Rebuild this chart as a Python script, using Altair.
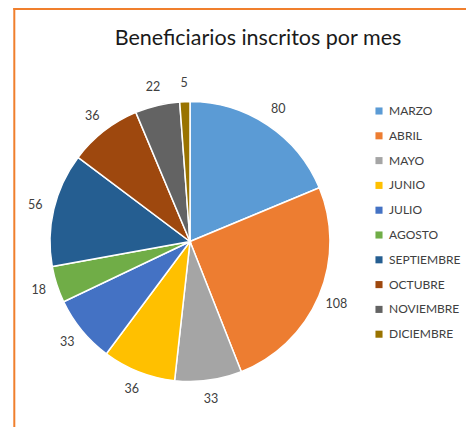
import altair as alt
import pandas as pd

meses = ["MARZO", "ABRIL", "MAYO", "JUNIO", "JULIO", "AGOSTO",
         "SEPTIEMBRE", "OCTUBRE", "NOVIEMBRE", "DICIEMBRE"]
valores = [80, 108, 33, 36, 33, 18, 56, 36, 22, 5]
colores = ["#5B9BD5", "#ED7D31", "#A5A5A5", "#FFC000", "#4472C4",
           "#70AD47", "#255E91", "#9E480E", "#636363", "#997300"]
titulo = "Beneficiarios inscritos por mes"

df = pd.DataFrame({"mes": meses, "valor": valores, "orden": list(range(len(meses)))})

FONT = "Lato"
CX, CY = 182, 230.5

base = alt.Chart(df).encode(
    theta=alt.Theta("valor:Q", stack=True),
    order=alt.Order("orden:Q", sort="ascending"),
)

pie = base.mark_arc(outerRadius=140, stroke="white", strokeWidth=1.5).encode(
    x=alt.value(CX), y=alt.value(CY),
    color=alt.Color(
        "mes:N", sort=meses,
        scale=alt.Scale(domain=meses, range=colores),
        legend=alt.Legend(
            title=None, orient="none", legendX=365, legendY=94, padding=0,
            symbolType="square", symbolSize=50, symbolStrokeWidth=0,
            labelFont=FONT, labelFontSize=12, labelColor="#404040",
            rowPadding=12.8, labelOffset=4,
        ),
    ),
)

labels = base.mark_text(radius=159, font=FONT, fontSize=12.5, color="#404040").encode(
    x=alt.value(CX), y=alt.value(CY), text="valor:Q",
)

title_df = pd.DataFrame({"t": [titulo]})
title = alt.Chart(title_df).mark_text(
    font=FONT, fontSize=21.5, color="#1a1a1a", baseline="alphabetic", align="center"
).encode(x=alt.value(250), y=alt.value(34), text="t:N")

frame_df = pd.DataFrame({"k": [0]})
top_line = alt.Chart(frame_df).mark_rule(color="#F07F2D", strokeWidth=2).encode(
    x=alt.value(5.3), x2=alt.value(470), y=alt.value(-2)
)
left_line = alt.Chart(frame_df).mark_rule(color="#F07F2D", strokeWidth=2).encode(
    x=alt.value(6.3), y=alt.value(-3), y2=alt.value(430)
)

chart = alt.layer(top_line, left_line, pie, labels, title).properties(
    width=458, height=416,
    autosize=alt.AutoSizeParams(type="none"),
    padding={"left": 0, "right": 0, "top": 3, "bottom": 0},
).configure_view(stroke=None)

chart.save("out.html", embed_options={"renderer": "svg", "actions": False})
